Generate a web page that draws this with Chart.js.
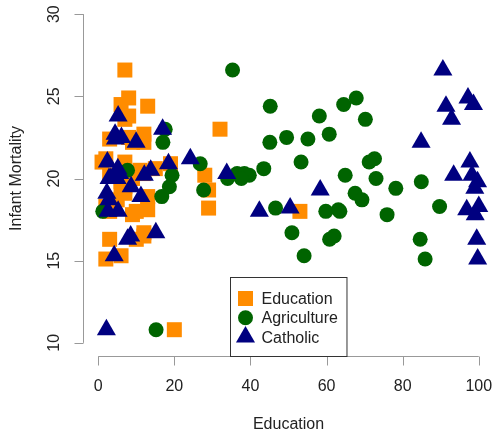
<!DOCTYPE html>
<html>
<head>
<meta charset="utf-8">
<script src="https://cdn.jsdelivr.net/npm/chart.js@4.4.1/dist/chart.umd.min.js"></script>
<style>
  html, body { margin: 0; padding: 0; background: #ffffff; }
  #wrap { width: 494px; height: 433px; position: relative; }
</style>
</head>
<body>
<div id="wrap"><canvas id="c" width="494" height="433"></canvas></div>
<script>
// Swiss provinces (1888): infant mortality against three socio-economic indicators
const infantMortality = [22.2, 22.2, 20.2, 20.3, 20.6, 26.6, 23.6, 24.9, 21.0, 24.4, 24.5, 16.5, 19.1, 22.7, 18.7, 21.2, 20.0, 20.2, 10.8, 20.0, 18.0, 22.4, 16.7, 15.3, 21.0, 23.8, 18.0, 16.3, 20.9, 22.5, 15.1, 19.8, 18.3, 19.4, 20.2, 17.8, 16.3, 18.1, 20.3, 20.5, 18.9, 23.0, 20.0, 19.5, 18.0, 18.2, 19.3];
const education = [12, 9, 5, 7, 15, 7, 7, 8, 7, 13, 6, 12, 7, 12, 5, 2, 8, 28, 20, 9, 10, 3, 12, 6, 1, 8, 3, 10, 19, 8, 2, 6, 2, 6, 3, 9, 3, 13, 12, 11, 13, 32, 7, 7, 53, 29, 29];
const agriculture = [17.0, 45.1, 39.7, 36.5, 43.5, 35.3, 70.2, 67.8, 53.3, 45.2, 64.5, 62.0, 67.5, 60.7, 69.3, 72.6, 34.0, 19.4, 15.2, 73.0, 59.8, 55.1, 50.9, 54.1, 71.2, 58.1, 63.5, 60.8, 26.8, 49.5, 85.9, 84.9, 89.7, 78.2, 64.9, 75.9, 84.6, 63.1, 38.4, 7.7, 16.7, 17.6, 37.6, 18.7, 1.2, 46.6, 27.7];
const catholic = [9.96, 84.84, 93.40, 33.77, 5.16, 90.57, 92.85, 97.16, 97.67, 91.38, 98.61, 8.52, 2.27, 4.43, 2.82, 24.20, 3.30, 12.11, 2.15, 2.84, 5.23, 4.52, 15.14, 4.20, 2.40, 5.23, 2.56, 7.72, 18.46, 6.10, 99.71, 99.68, 100.00, 98.96, 98.22, 99.06, 99.46, 96.83, 5.62, 13.79, 11.22, 16.92, 4.97, 8.65, 42.34, 50.43, 58.33];

const seriesNames = ['Education', 'Agriculture', 'Catholic'];
const xTicks = [0, 20, 40, 60, 80, 100];
const yTicks = [10, 15, 20, 25, 30];
const xTitle = 'Education';
const yTitle = 'Infant Mortality';

const FONT = '"Liberation Sans", Arial, Helvetica, sans-serif';
const colors = ['#FF8C00', '#006400', '#000080'];
const shapes = ['rect', 'circle', 'triangle'];
const radii = [10.6, 7.5, 11];

function pairs(xs) {
  return xs.map((x, i) => ({ x: x, y: infantMortality[i] }));
}
const seriesX = [education, agriculture, catholic];

const datasets = seriesNames.map((name, k) => ({
  label: name,
  data: pairs(seriesX[k]),
  pointStyle: shapes[k],
  pointRadius: radii[k],
  pointHoverRadius: radii[k],
  backgroundColor: colors[k],
  borderColor: colors[k],
  borderWidth: 0,
  order: 2 - k,
  clip: false
}));

function drawShape(ctx, shape, r, x, y) {
  if (shape === 'rect') {
    const s = r / Math.SQRT2;
    ctx.rect(x - s, y - s, 2 * s, 2 * s);
  } else if (shape === 'circle') {
    ctx.arc(x, y, r, 0, Math.PI * 2);
  } else {
    const dx = Math.sin(Math.PI / 3) * r;
    ctx.moveTo(x, y - r);
    ctx.lineTo(x + dx, y + r / 2);
    ctx.lineTo(x - dx, y + r / 2);
    ctx.closePath();
  }
}

// Base-graphics style axes, titles and legend drawn off the chart's scales
const baseAxes = {
  id: 'baseAxes',
  afterDraw(chart) {
    const ctx = chart.ctx;
    const xs = chart.scales.x, ys = chart.scales.y;
    const area = chart.chartArea;
    const tick = 9;
    ctx.save();
    ctx.strokeStyle = '#999999';
    ctx.lineWidth = 1;
    // x axis
    const yAx = Math.round(area.bottom) + 0.5;
    ctx.beginPath();
    ctx.moveTo(xs.getPixelForValue(xTicks[0]), yAx);
    ctx.lineTo(xs.getPixelForValue(xTicks[xTicks.length - 1]), yAx);
    xTicks.forEach(v => {
      const px = Math.round(xs.getPixelForValue(v)) + 0.5;
      ctx.moveTo(px, yAx);
      ctx.lineTo(px, yAx + tick);
    });
    ctx.stroke();
    // y axis
    const xAx = Math.round(area.left) + 0.5;
    ctx.beginPath();
    ctx.moveTo(xAx, ys.getPixelForValue(yTicks[0]));
    ctx.lineTo(xAx, ys.getPixelForValue(yTicks[yTicks.length - 1]));
    yTicks.forEach(v => {
      const py = Math.round(ys.getPixelForValue(v)) + 0.5;
      ctx.moveTo(xAx, py);
      ctx.lineTo(xAx - tick, py);
    });
    ctx.stroke();

    ctx.fillStyle = '#222222';
    ctx.font = '16px ' + FONT;
    ctx.textAlign = 'center';
    ctx.textBaseline = 'middle';
    xTicks.forEach(v => {
      ctx.fillText(String(v), xs.getPixelForValue(v), area.bottom + 31);
    });
    yTicks.forEach(v => {
      ctx.save();
      ctx.translate(area.left - 28, ys.getPixelForValue(v));
      ctx.rotate(-Math.PI / 2);
      ctx.fillText(String(v), 0, 0);
      ctx.restore();
    });
    // titles
    ctx.fillText(xTitle, (area.left + area.right) / 2, area.bottom + 69);
    ctx.save();
    ctx.translate(area.left - 66, (area.top + area.bottom) / 2);
    ctx.rotate(-Math.PI / 2);
    ctx.fillText(yTitle, 0, 0);
    ctx.restore();

    // legend at bottom centre of the plot region
    ctx.textAlign = 'left';
    const textW = Math.max(...seriesNames.map(s => ctx.measureText(s).width));
    const w = 31 + textW + 9;
    const rowH = 19.3;
    const h = 79;
    const left = Math.round((area.left + area.right) / 2 - w / 2) + 0.5;
    const top = Math.round(area.bottom - h) + 0.5;
    ctx.fillStyle = '#ffffff';
    ctx.fillRect(left, top, w, h);
    ctx.strokeStyle = '#333333';
    ctx.strokeRect(left, top, w, h);
    seriesNames.forEach((name, k) => {
      const cy = top + 21 + k * rowH;
      ctx.fillStyle = colors[k];
      ctx.beginPath();
      drawShape(ctx, shapes[k], radii[k], left + 15, cy);
      ctx.fill();
      ctx.fillStyle = '#222222';
      ctx.fillText(name, left + 31, cy + 1);
    });
    ctx.restore();
  }
};

new Chart(document.getElementById('c'), {
  type: 'scatter',
  data: { datasets: datasets },
  options: {
    responsive: false,
    animation: false,
    events: [],
    layout: { autoPadding: false, padding: { left: 83, top: 1, right: 0, bottom: 77 } },
    scales: {
      x: { type: 'linear', display: false, min: -4, max: 104 },
      y: { type: 'linear', display: false, min: 9.2, max: 30.8 }
    },
    plugins: {
      legend: { display: false },
      tooltip: { enabled: false }
    }
  },
  plugins: [baseAxes]
});
</script>
</body>
</html>
